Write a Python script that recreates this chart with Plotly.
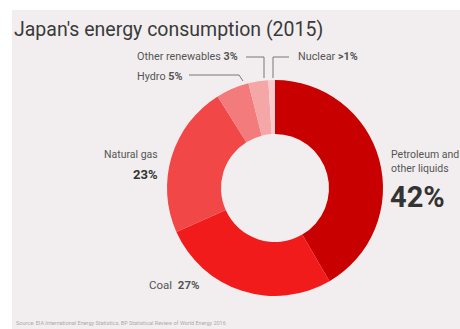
import plotly.graph_objects as go

# Data
sources = ["Petroleum and other liquids", "Coal", "Natural gas", "Hydro", "Other renewables", "Nuclear"]
shares = [42, 27, 23, 5, 3, 1]
share_labels = ["42%", "27%", "23%", "5%", "3%", ">1%"]
colors = ["#c90000", "#f21b1b", "#f24747", "#f47b7b", "#f5a6a6", "#f8cccc"]

W, H = 480, 340  # slightly larger than the 460x329 window; extra is cropped
BG = "#f2eeef"

def px(x):
    return x / W

def py(y):
    return 1 - y / H

cx, cy, r = 275, 188, 108

fig = go.Figure(go.Pie(
    labels=sources,
    values=shares,
    sort=False,
    direction="clockwise",
    rotation=0,
    hole=0.5,
    marker=dict(colors=colors, line=dict(width=0)),
    textinfo="none",
    hoverinfo="label+percent",
    showlegend=False,
    domain=dict(x=[px(cx - r), px(cx + r)], y=[py(cy + r), py(cy - r)]),
))

shapes = [
    # white strips of the original image frame
    dict(type="rect", xref="paper", yref="paper", x0=0, x1=px(12), y0=0, y1=1,
         fillcolor="white", line=dict(width=0), layer="below"),
    dict(type="rect", xref="paper", yref="paper", x0=0, x1=1, y0=py(10), y1=1,
         fillcolor="white", line=dict(width=0), layer="below"),
]

def leader(points):
    path = "M " + " L ".join(f"{px(x)},{py(y)}" for x, y in points)
    return dict(type="path", xref="paper", yref="paper", path=path,
                line=dict(color="#777777", width=1))

shapes += [
    leader([(246, 57), (264, 57), (264, 78)]),
    leader([(289, 57), (273, 57), (273, 78)]),
    leader([(189, 75), (239, 75), (243, 81)]),
]

FONT = "Roboto, Arial, sans-serif"
LBL = "#555555"
PCT = "#333333"

def ann(x, y, text, size=10, color=LBL, xanchor="left", yanchor="middle", align="left"):
    return dict(x=px(x), y=py(y), xref="paper", yref="paper", text=text,
                showarrow=False, xanchor=xanchor, yanchor=yanchor, align=align,
                font=dict(family=FONT, size=size, color=color))

annotations = [
    ann(12, 29, "Japan's energy consumption (2015)", size=19.5, color="#3a3a3a"),
    ann(240, 57, f"{sources[4]} <b>{share_labels[4]}</b>", xanchor="right", size=10.8),
    ann(296, 57, f"{sources[5]} <b>{share_labels[5]}</b>", size=10.8),
    ann(184, 76, f"{sources[3]} <b>{share_labels[3]}</b>", xanchor="right", size=10.8),
    ann(160, 155, sources[2], xanchor="right", size=10.5),
    ann(160, 175, f"<b>{share_labels[2]}</b>", xanchor="right", size=13, color=PCT),
    ann(202, 285, f"{sources[1]}  <b>{share_labels[1]}</b>", xanchor="right", size=11.5, color=LBL),
    ann(389, 161, "Petroleum and<br>other liquids", size=10.5),
    ann(388, 197, f"<b>{share_labels[0]}</b>", size=29, color=PCT),
    ann(14, 323, "Source: EIA International Energy Statistics, BP Statistical Review of World Energy 2016",
        size=5.5, color="#aaaaaa"),
]

fig.update_layout(
    width=W, height=H,
    margin=dict(l=0, r=0, t=0, b=0),
    paper_bgcolor=BG,
    plot_bgcolor=BG,
    shapes=shapes,
    annotations=annotations,
)

fig.write_html(
    "out.html",
    config={"displayModeBar": False},
    post_script=(
        "var s=document.createElement('style');"
        "s.textContent='html,body{margin:0;padding:0;overflow:hidden;background:#f2eeef}"
        "::-webkit-scrollbar{width:0;height:0;display:none}';"
        "document.head.appendChild(s);"
    ),
)
